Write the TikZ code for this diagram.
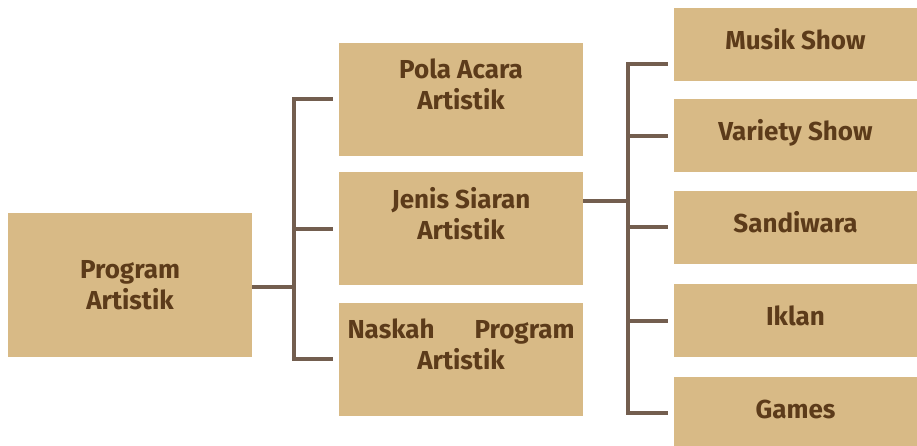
\documentclass[tikz,border=0pt]{standalone}
\usepackage{fontspec}
\setmainfont{Fira Sans}
\usepackage{tikz}
\usetikzlibrary{positioning,calc}

\definecolor{boxtan}{HTML}{D8BA86}
\definecolor{inkbrown}{HTML}{5C3B1A}
\definecolor{stembrown}{HTML}{735E4F}

\begin{document}
\begin{tikzpicture}[
    x=1pt,
    y=-1pt,
    every node/.style={
        font=\fontsize{26}{31}\selectfont\bfseries,
        text=inkbrown
    },
    bigbox/.style={
        rectangle,
        fill=boxtan,
        align=center,
        inner sep=0pt,
        minimum width=244pt,
        minimum height=144pt
    },
    midbox/.style={
        rectangle,
        fill=boxtan,
        align=center,
        inner sep=0pt,
        minimum width=244pt,
        minimum height=113pt
    },
    leafbox/.style={
        rectangle,
        fill=boxtan,
        align=center,
        inner sep=0pt,
        text height=20pt,
        text depth=10pt,
        minimum width=243pt,
        minimum height=73pt
    },
    link/.style={
        draw=stembrown,
        line width=4pt
    }
]

\useasboundingbox (0,0) rectangle (917,446);

\node[bigbox] (program) at (130,285) {Program\\Artistik};
\node[midbox] (pola) at (461,99.5) {Pola Acara\\Artistik\\~};
\node[midbox, below=16pt of pola] (jenis) {Jenis Siaran\\Artistik\\~};
\node[midbox, below=17pt of jenis] (naskah) {\makebox[227pt]{Naskah\hfill Program}\\Artistik\\~};

\node[leafbox] (musik) at (795.5,44.5) {Musik Show};
\node[leafbox, below=18pt of musik] (variety) {Variety Show};
\node[leafbox, below=18pt of variety] (sandiwara) {Sandiwara};
\node[leafbox, below=20pt of sandiwara] (iklan) {Iklan};
\node[leafbox, below=19pt of iklan] (games) {Games};

% Cabang pertama
\coordinate (fork1) at ([xshift=42pt, yshift=-2pt]program.east);
\draw[link] ([yshift=-2pt]program.east) -- (fork1);
\draw[link] ([xshift=-6pt]pola.west) -| (fork1) |- ([xshift=-6pt]naskah.west);
\draw[link] (fork1 |- jenis.west) -- ([xshift=-6pt]jenis.west);

% Cabang kedua
\coordinate (fork2) at ([xshift=45pt, yshift=28pt]jenis.east);
\draw[link] ([yshift=28pt]jenis.east) -- (fork2);
\draw[link] ([xshift=-6pt, yshift=-20pt]musik.west) -| (fork2) |- ([xshift=-6pt]games.west);
\draw[link] (fork2 |- variety.west) -- ([xshift=-6pt]variety.west);
\draw[link] (fork2 |- sandiwara.west) -- ([xshift=-6pt]sandiwara.west);
\draw[link] (fork2 |- iklan.west) -- ([xshift=-6pt]iklan.west);

\end{tikzpicture}
\end{document}
